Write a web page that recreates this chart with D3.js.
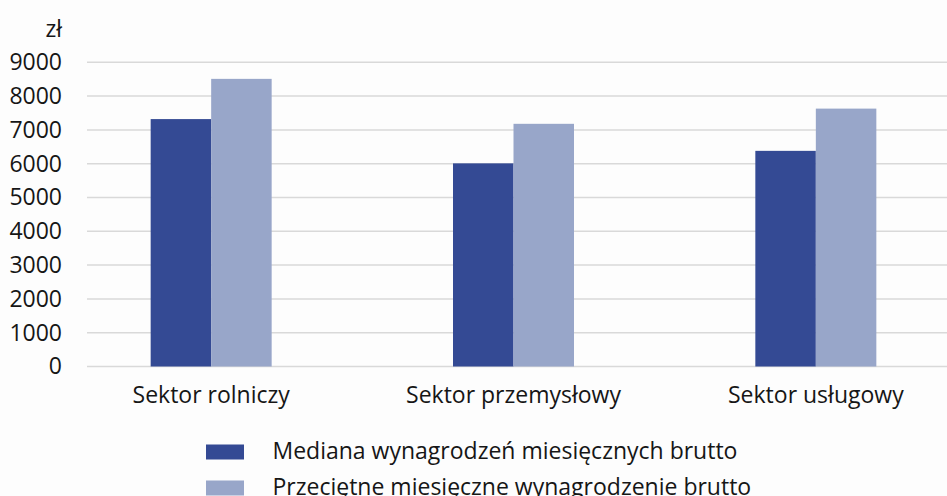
<!DOCTYPE html>
<html>
<head>
<meta charset="utf-8">
<script src="https://cdn.jsdelivr.net/npm/d3@7"></script>
<style>
  body { margin: 0; background: #fdfdfd; }
  svg text { font-family: "Open Sans", sans-serif; fill: #161616; }
</style>
</head>
<body>
<div id="chart"></div>
<script>
const categories = ["Sektor rolniczy", "Sektor przemysłowy", "Sektor usługowy"];
const seriesNames = [
  "Mediana wynagrodzeń miesięcznych brutto",
  "Przeciętne miesięczne wynagrodzenie brutto"
];
const medianValues = [7320, 6010, 6380];
const averageValues = [8510, 7180, 7630];
const yTicks = [0, 1000, 2000, 3000, 4000, 5000, 6000, 7000, 8000, 9000];
const colors = ["#344a94", "#98a6c9"];

const width = 947, height = 496;

const svg = d3.select("#chart")
  .append("svg")
  .attr("width", width)
  .attr("height", height);

const y = d3.scaleLinear().domain([0, 9000]).range([366.5, 62.3]);

const x = d3.scaleBand().domain(categories).range([60, 967]).padding(0);

const x1 = d3.scaleBand()
  .domain(seriesNames)
  .range([x.bandwidth() / 2 - 60.5, x.bandwidth() / 2 + 60.5]);

// gridlines
svg.append("g")
  .selectAll("line")
  .data(yTicks)
  .join("line")
  .attr("x1", 87)
  .attr("x2", width)
  .attr("y1", (d) => y(d))
  .attr("y2", (d) => y(d))
  .attr("stroke", "#d9d9d9")
  .attr("stroke-width", 1.5);

// y axis labels
const yAxis = svg.append("g")
  .attr("transform", "translate(62,0)")
  .call(d3.axisLeft(y).tickValues(yTicks).tickSize(0).tickPadding(0).tickFormat(d3.format("d")));
yAxis.select(".domain").remove();
yAxis.selectAll("text")
  .attr("font-size", 23)
  .attr("font-family", "Open Sans, sans-serif")
  .attr("fill", "#161616");

svg.append("text")
  .attr("x", 62)
  .attr("y", 36.5)
  .attr("text-anchor", "end")
  .attr("font-size", 23)
  .text("zł");

// bars
const data = categories.map((c, i) => ({
  category: c,
  values: [medianValues[i], averageValues[i]]
}));

svg.append("g")
  .selectAll("g")
  .data(data)
  .join("g")
  .attr("transform", (d) => `translate(${x(d.category)},0)`)
  .selectAll("rect")
  .data((d) => d.values.map((v, j) => ({ key: seriesNames[j], value: v, idx: j })))
  .join("rect")
  .attr("x", (d) => x1(d.key))
  .attr("width", x1.bandwidth())
  .attr("y", (d) => y(d.value))
  .attr("height", (d) => y(0) - y(d.value))
  .attr("fill", (d) => colors[d.idx]);

// category labels
svg.append("g")
  .selectAll("text")
  .data(categories)
  .join("text")
  .attr("x", (d) => x(d) + x.bandwidth() / 2)
  .attr("y", 403)
  .attr("text-anchor", "middle")
  .attr("font-size", 23)
  .text((d) => d);

// legend (second row is cut at the bottom edge, as in the source)
const legend = svg.append("g")
  .selectAll("g")
  .data(seriesNames)
  .join("g")
  .attr("transform", (d, i) => `translate(206,${444.5 + i * 36})`);

legend.append("rect")
  .attr("width", 38)
  .attr("height", 15)
  .attr("fill", (d, i) => colors[i]);

legend.append("text")
  .attr("x", 66.5)
  .attr("y", 14)
  .attr("font-size", 23)
  .text((d) => d);
</script>
</body>
</html>
